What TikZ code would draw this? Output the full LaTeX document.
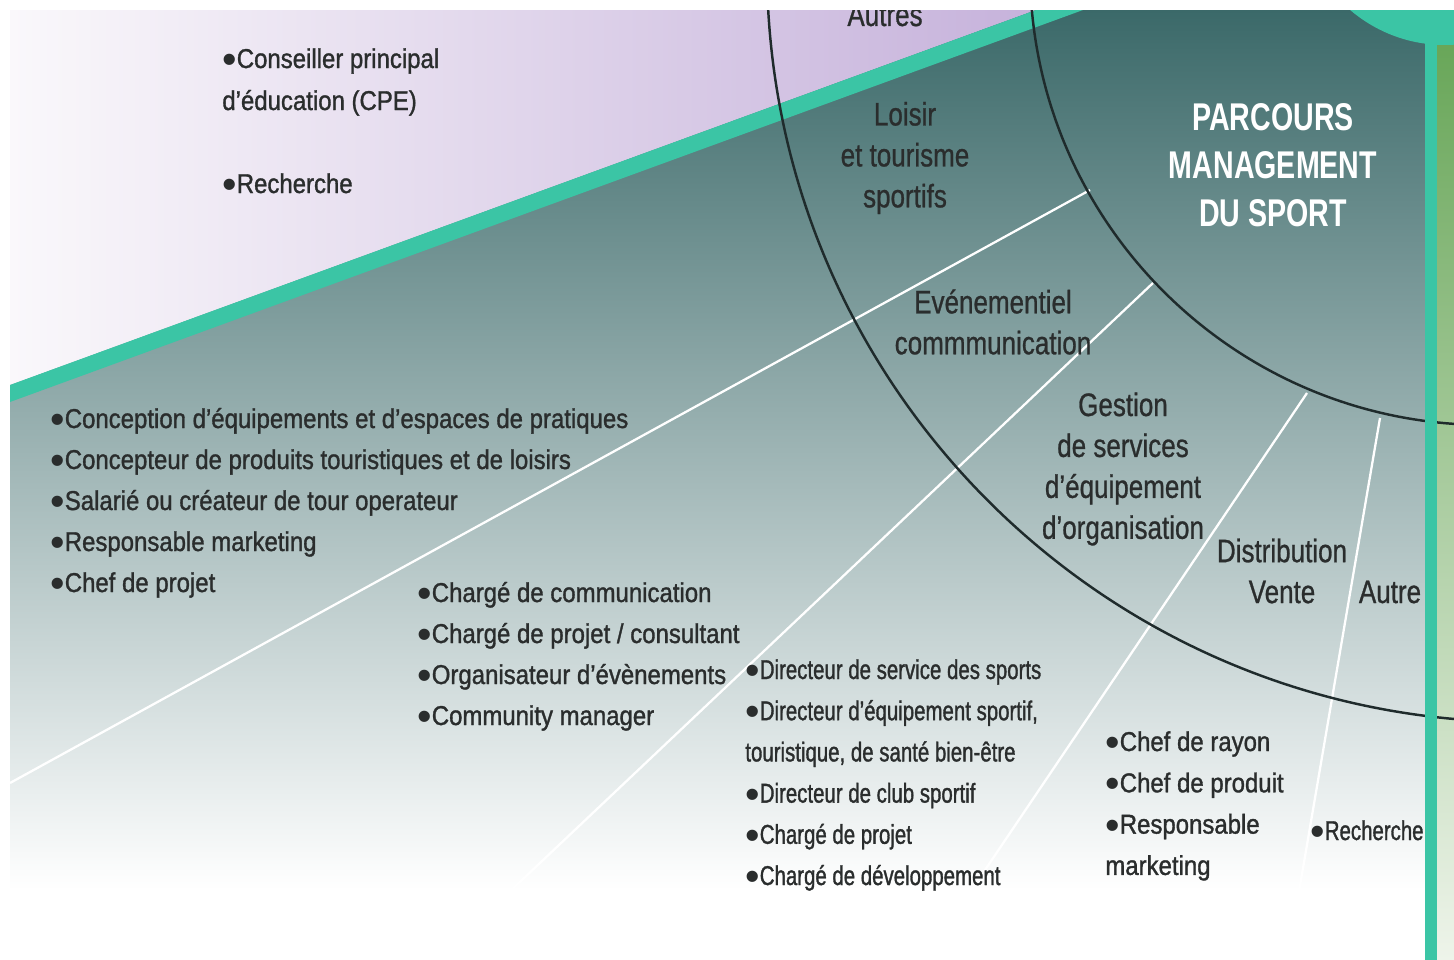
\documentclass[tikz,border=0pt]{standalone}
\usepackage{fontspec}
\setmainfont{Liberation Sans}[FakeStretch=0.88, FakeBold=1.2]
\newfontfamily\tightfont{Liberation Sans}[FakeStretch=0.75, FakeBold=1.2]
\newfontfamily\sectorfont{Liberation Sans}[FakeStretch=0.8, FakeBold=0.8]
\newfontfamily\titlefont{Liberation Sans}[FakeStretch=0.74]
\newfontfamily\bulfont{Liberation Sans}

\definecolor{darkteal}{HTML}{3B6969}
\definecolor{bandteal}{HTML}{3BC5A5}
\definecolor{lilac}{HTML}{C6B2DB}
\definecolor{palelilac}{HTML}{FAF8FB}
\definecolor{leaf}{HTML}{68A658}
\definecolor{paleleaf}{HTML}{EEF4EA}
\definecolor{ringcol}{HTML}{1F2B2C}
\definecolor{txt}{HTML}{2A2D2D}

\newcommand{\bul}{\raisebox{-3.1pt}{\bulfont\fontsize{23.5}{20}\selectfont •}}

\begin{document}
\begin{tikzpicture}[x=0.02cm, y=-0.02cm,
    every node/.style={inner sep=0pt, text=txt},
    item/.style={anchor=base west, font=\fontsize{15.5}{18}\selectfont},
    tightitem/.style={anchor=base west, font=\tightfont\fontsize{15.5}{18}\selectfont},
    sector/.style={align=center, font=\sectorfont\fontsize{18.5}{23.3}\selectfont},
    ring/.style={draw=ringcol, line width=1.4pt},
    ray/.style={draw=white, line width=1.3pt}]

  \useasboundingbox (0,0) rectangle (1454,960);
  \begin{scope}
    \clip (10,10) rectangle (1454,960);

    % Backgrounds
    \shade[top color=darkteal, bottom color=white] (10,10) rectangle (1425,890);
    \shade[left color=palelilac, right color=lilac] (10,10) -- (1036,10) -- (10,385) -- cycle;
    \fill[bandteal] (10,385) -- (1036,10) -- (1083,10) -- (10,402) -- cycle;
    \shade[top color=leaf, bottom color=paleleaf] (1437,40) rectangle (1454,960);

    % Rays
    \foreach \xa/\ya/\xb/\yb [count=\i] in {1090/190/10/783, 1153/283/448/950,
        1307/393/931/950, 1380/418/1289/950} {
      \coordinate (in\i) at (\xa,\ya);
      \coordinate (out\i) at (\xb,\yb);
      \draw[ray] (in\i) -- (out\i);
    }

    % Rings
    \draw[ring] (1486,-31) circle (456);
    \draw[ring] (1522,-33) circle (755);

    % Right edge
    \fill[bandteal] (1425,30) rectangle (1437,960);
    \fill[bandteal] (1445,-101) circle (146);

    % Top label cut by the frame
    \node[sector, anchor=base] (autres) at (885,26) {Autres};
  \end{scope}

  % Title
  \node[align=center, text=white, font=\titlefont\bfseries\fontsize{22}{27.3}\selectfont]
    (parcours) at (1273,165) {PARCOURS\\MANAGEMENT\\DU SPORT};

  % Sectors
  \node[sector] (loisir) at (905,158) {Loisir\\et tourisme\\sportifs};
  \node[sector] (event) at (993,322) {Evénementiel\\commmunication};
  \node[sector] (gestion) at (1123,469) {Gestion\\de services\\d’équipement\\d’organisation};
  \node[sector] (vente) at (1282,571) {Distribution\\Vente};
  \node[sector] (autre) at (1390,592) {Autre};

  % Upper list
  \node[item] (cpe1) at (222,68) {\bul Conseiller principal};
  \node[item] (cpe2) at (222,110) {d’éducation (CPE)};
  \node[item] (rech1) at (222,193) {\bul Recherche};

  % Loisir list
  \foreach \t [count=\i] in {Conception d’équipements et d’espaces de pratiques,
      Concepteur de produits touristiques et de loisirs,
      Salarié ou créateur de tour operateur, Responsable marketing, Chef de projet}
    \node[item] (lois\i) at (50,387+41*\i) {\bul\t};

  % Event list
  \foreach \t [count=\i] in {Chargé de communication, Chargé de projet / consultant,
      Organisateur d’évènements, Community manager}
    \node[item] (evt\i) at (417,561+41*\i) {\bul\t};

  % Gestion list
  \foreach \t [count=\i] in {\bul Directeur de service des sports, {\bul Directeur d’équipement sportif,},
      {touristique, de santé bien-être}, \bul Directeur de club sportif, \bul Chargé de projet,
      \bul Chargé de développement}
    \node[tightitem] (ges\i) at (745,637.8+41.2*\i) {\t};

  % Vente list
  \foreach \t [count=\i] in {\bul Chef de rayon, \bul Chef de produit, \bul Responsable, marketing}
    \node[item] (ven\i) at (1105,709.7+41.3*\i) {\t};

  % Autre list
  \node[tightitem] (rech2) at (1310,840) {\bul Recherche};
\end{tikzpicture}
\end{document}
